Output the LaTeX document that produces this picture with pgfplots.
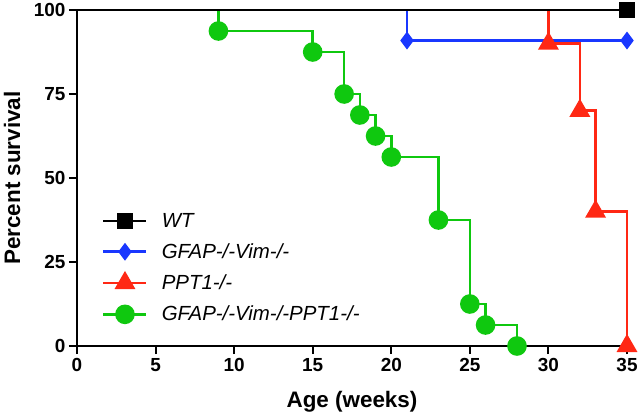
\documentclass[border=0pt]{standalone}
\usepackage{pgfplots}
\pgfplotsset{compat=1.18}
\usepackage{fontspec}
\setmainfont{Liberation Sans}
\definecolor{cblue}{RGB}{25,55,255}
\definecolor{cred}{RGB}{255,40,20}
\definecolor{cgreen}{RGB}{15,200,15}
\begin{document}
\begin{tikzpicture}
\useasboundingbox (-77bp,-70bp) rectangle (563bp,346bp);
\begin{axis}[
  scale only axis,
  width=550bp, height=336bp,
  xmin=0, xmax=35, ymin=0, ymax=100,
  axis lines=left,
  axis line style={-, line width=2.2bp},
  clip=false,
  xtick={0,5,...,35}, ytick={0,25,50,75,100},
  tick style={black, line width=2bp},
  tick align=outside,
  major tick length=8bp,
  /pgf/number format/assume math mode=true,
  tick label style={font=\bfseries\fontsize{19}{19}\selectfont},
  xticklabel style={yshift=-1bp},
  yticklabel style={xshift=0bp},
  xlabel={Age (weeks)},
  ylabel={Percent survival},
  label style={font=\bfseries\fontsize{22.5}{22.5}\selectfont},
  xlabel style={at={(axis description cs:0.5,-0.166)}, anchor=center},
  ylabel style={at={(axis description cs:-0.118,0.5)}, anchor=center, rotate=0},
  legend style={draw=none, fill=none, at={(axis description cs:0.04,0.408)}, anchor=north west,
    font=\itshape\fontsize{20.5}{20.5}\selectfont, row sep=11bp, cells={anchor=west}},
  legend cell align=left,
  legend image code/.code={\draw[mark repeat=2,mark phase=2] plot coordinates {(0bp,0bp) (21.5bp,0bp) (43bp,0bp)}; \path (55bp,0bp);},
]
\addlegendimage{black, line width=2.6bp, mark=square*, mark size=7bp, mark options={solid}}
\addlegendentry{WT}
\addlegendimage{cblue, line width=2.6bp, mark=diamond*, mark size=6.8bp, mark options={solid}}
\addlegendentry{GFAP-/-Vim-/-}
\addlegendimage{cred, line width=2.6bp, mark=triangle*, mark size=9.5bp, mark options={solid}}
\addlegendentry{PPT1-/-}
\addlegendimage{cgreen, line width=2.6bp, mark=*, mark size=8.5bp, mark options={solid}}
\addlegendentry{GFAP-/-Vim-/-PPT1-/-}
% GFAP-/-Vim-/-PPT1-/-
\addplot[forget plot, const plot, cgreen, line width=2.6bp, mark=*, mark size=8.5bp, mark indices={2,3,4,5,6,7,8,9,10,11}] coordinates {
 (0,100) (9,93.75) (15,87.5) (17,75) (18,68.75) (19,62.5) (20,56.25) (23,37.5) (25,12.5) (26,6.25) (28,0)};
% PPT1-/-
\addplot[forget plot, const plot, cred, line width=2.6bp, mark=triangle*, mark size=9.5bp, mark indices={2,3,4,5}] coordinates {
 (0,100) (30,90) (32,70) (33,40) (35,0)};
% GFAP-/-Vim-/-
\addplot[forget plot, const plot, cblue, line width=2.6bp, mark=diamond*, mark size=6.8bp, mark indices={2,3}] coordinates {
 (0,100) (21,90.91) (35,90.91)};
% WT
\addplot[forget plot, const plot, black, line width=2.6bp, mark=square*, mark size=7bp, mark indices={2}] coordinates {
 (0,100) (35,100)};
\end{axis}
\end{tikzpicture}
\end{document}
